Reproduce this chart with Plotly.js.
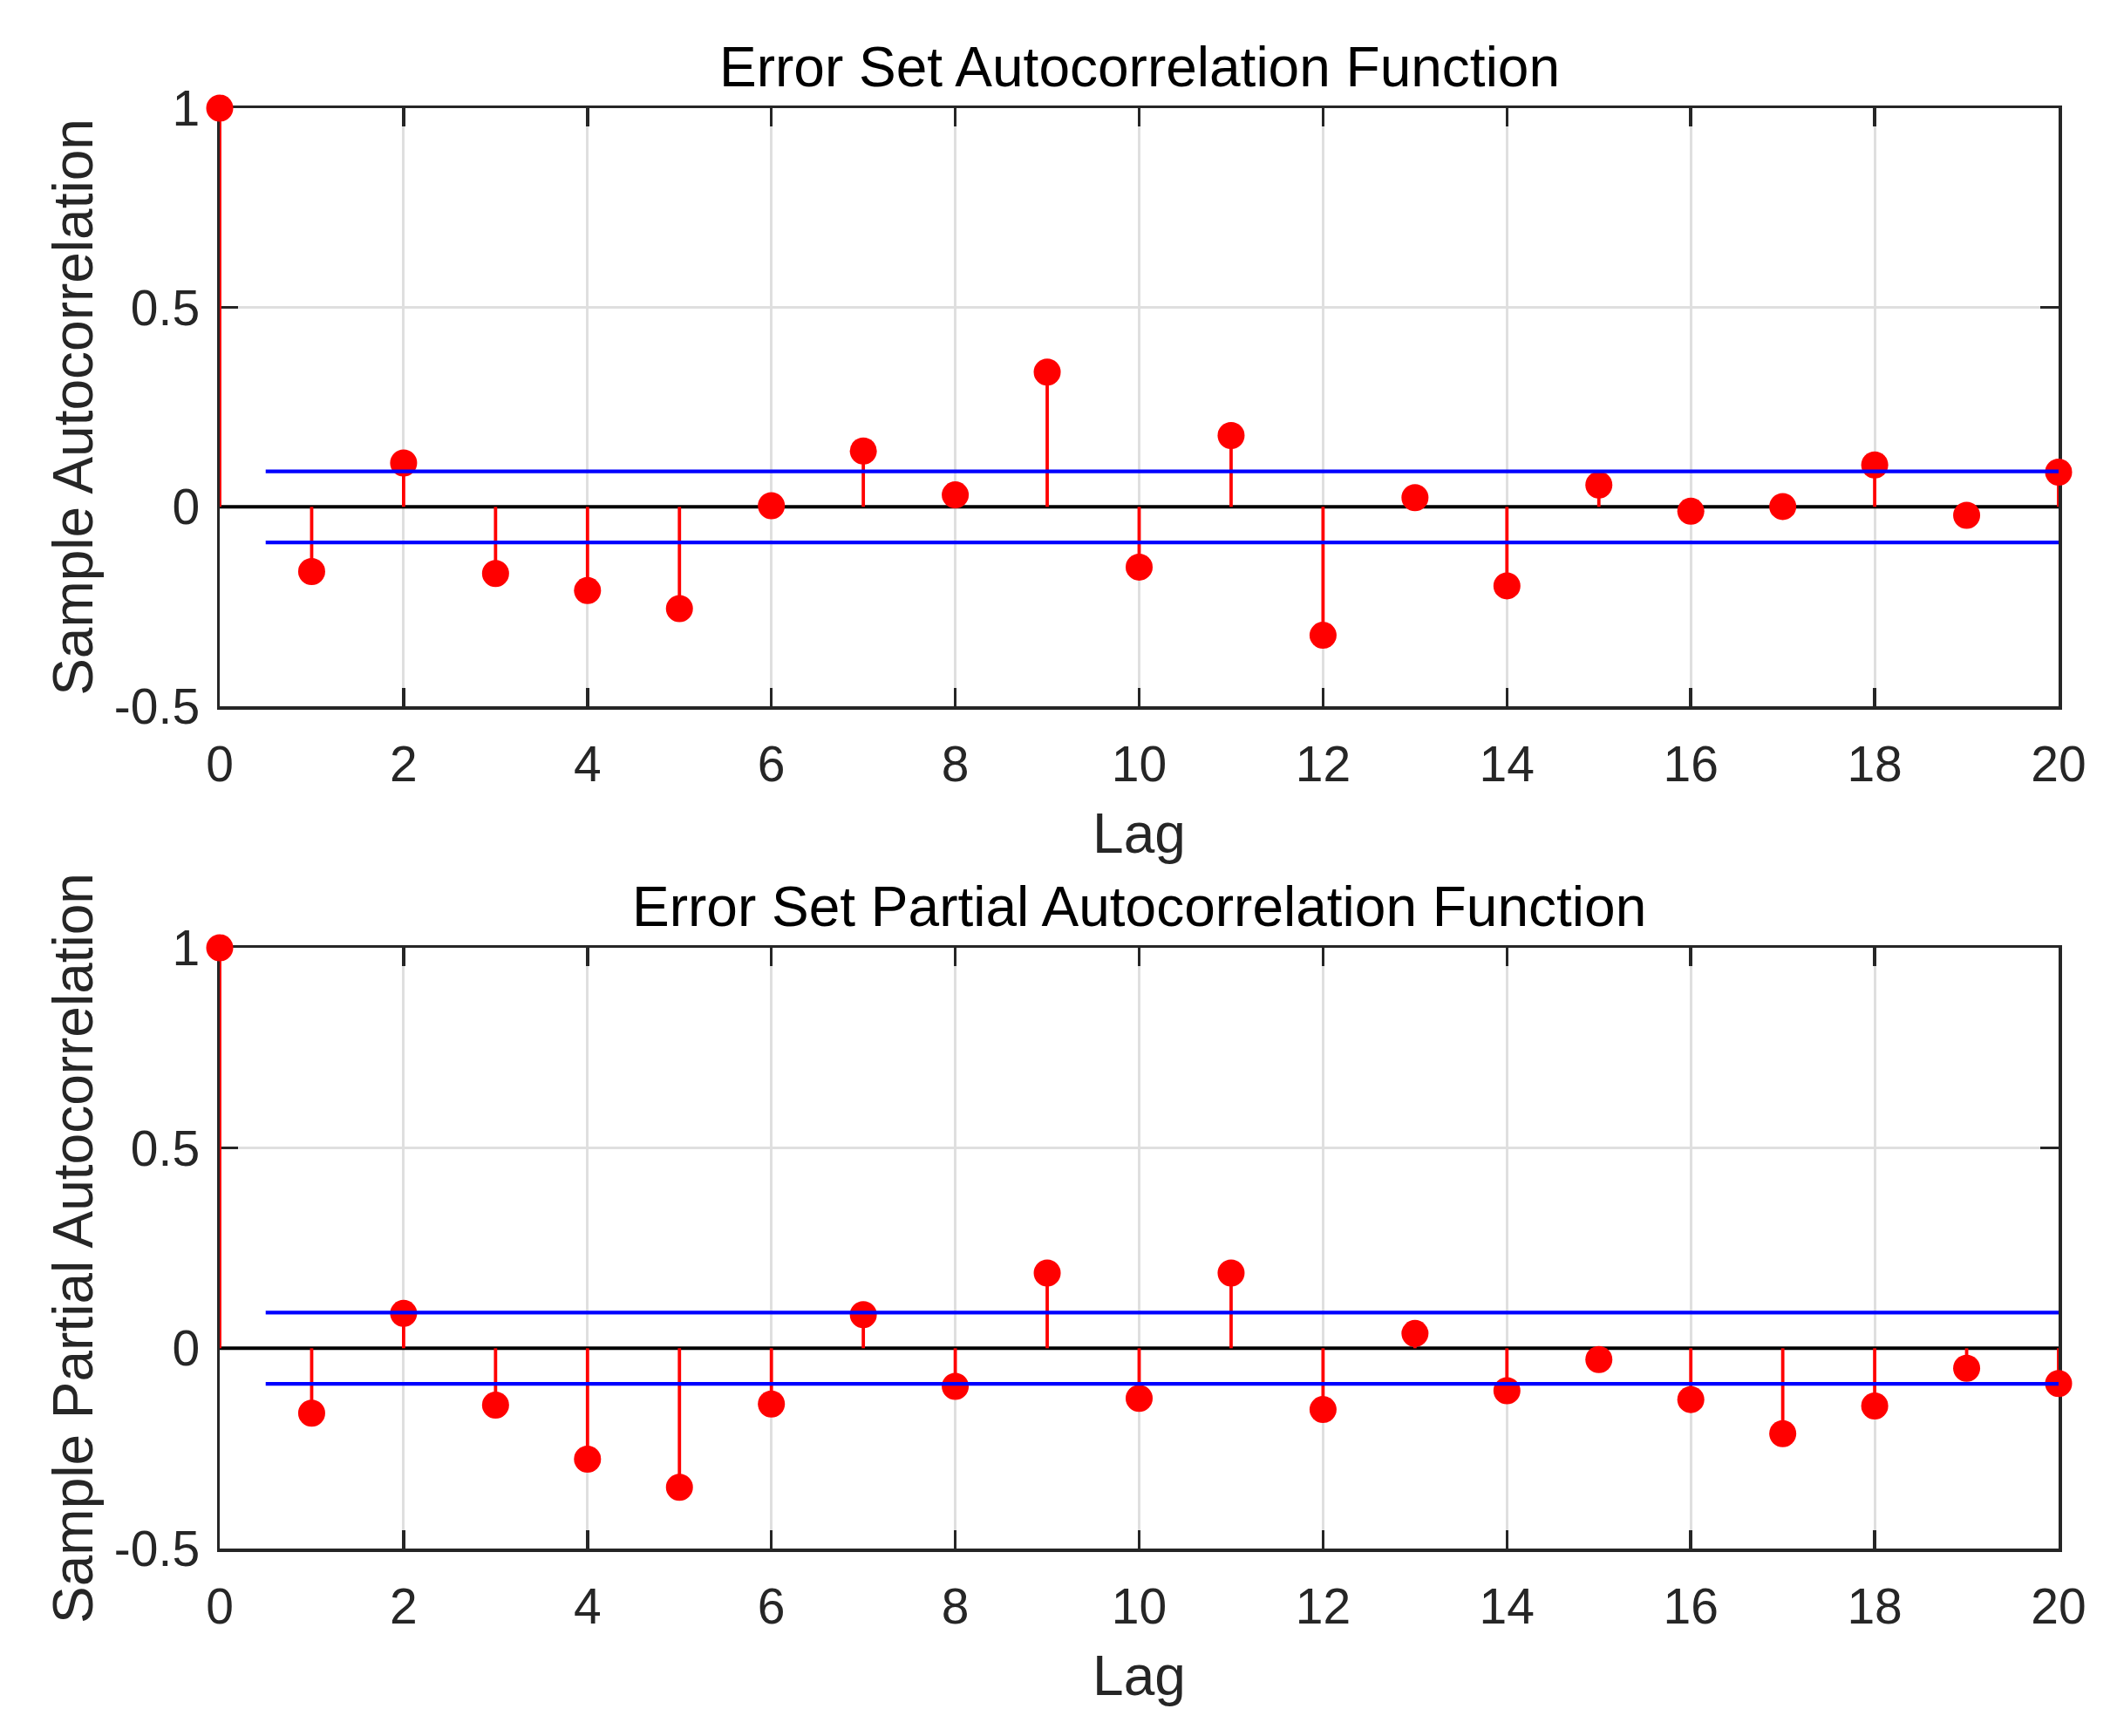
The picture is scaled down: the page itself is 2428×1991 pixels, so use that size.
<!DOCTYPE html>
<html>
<head>
<meta charset="utf-8">
<script src="https://cdn.plot.ly/plotly-3.0.1.min.js"></script>
<style>
  html, body { margin: 0; padding: 0; background: #ffffff; }
  #chart { width: 2428px; height: 1991px; }
</style>
</head>
<body>
<div id="chart"></div>
<script>
// ---------------- data ----------------
const lags = [0, 1, 2, 3, 4, 5, 6, 7, 8, 9, 10, 11, 12, 13, 14, 15, 16, 17, 18, 19, 20];
const acfValues = [1, -0.162, 0.110, -0.167, -0.210, -0.255, 0.003, 0.140, 0.030, 0.338, -0.151,
                   0.179, -0.322, 0.023, -0.198, 0.055, -0.011, 0.001, 0.105, -0.021, 0.087];
const pacfValues = [1, -0.162, 0.087, -0.142, -0.277, -0.347, -0.139, 0.084, -0.095, 0.188, -0.125,
                    0.188, -0.153, 0.037, -0.106, -0.028, -0.128, -0.213, -0.144, -0.050, -0.088];
const acfBound = 0.089;
const pacfBound = 0.089;
const boundStartLag = 0.5;
const xTickVals = [0, 2, 4, 6, 8, 10, 12, 14, 16, 18, 20];
const xTickText = ['0', '2', '4', '6', '8', '10', '12', '14', '16', '18', '20'];
const yTickVals = [-0.5, 0, 0.5, 1];
const yTickText = ['-0.5', '0', '0.5', '1'];
const titles = ['Error Set Autocorrelation Function', 'Error Set Partial Autocorrelation Function'];
const yLabels = ['Sample Autocorrelation', 'Sample Partial Autocorrelation'];
const xLabel = 'Lag';

// ---------------- styling ----------------
const FONT = 'Liberation Sans, Arial, Helvetica, sans-serif';
const AX = '#262626';
const W = 2428, H = 1991;
const px2x = p => p / W;
const px2y = p => (H - p) / H;

function stemTraces(values, bound, xa, ya) {
  const sx = [], sy = [];
  lags.forEach((l, i) => { sx.push(l, l, null); sy.push(0, values[i], null); });
  const last = lags[lags.length - 1];
  return [
    { x: [lags[0], last], y: [0, 0], xaxis: xa, yaxis: ya, mode: 'lines',
      line: { color: '#000000', width: 4 }, hoverinfo: 'skip', showlegend: false, cliponaxis: false },
    { x: sx, y: sy, xaxis: xa, yaxis: ya, mode: 'lines',
      line: { color: '#ff0000', width: 3.8 }, hoverinfo: 'skip', showlegend: false, cliponaxis: false },
    { x: lags, y: values, xaxis: xa, yaxis: ya, mode: 'markers',
      marker: { color: '#ff0000', size: 31, line: { width: 0 } }, showlegend: false, cliponaxis: false },
    { x: [boundStartLag, last], y: [bound, bound], xaxis: xa, yaxis: ya, mode: 'lines',
      line: { color: '#0000ff', width: 4.2 }, hoverinfo: 'skip', showlegend: false, cliponaxis: false },
    { x: [boundStartLag, last], y: [-bound, -bound], xaxis: xa, yaxis: ya, mode: 'lines',
      line: { color: '#0000ff', width: 4.2 }, hoverinfo: 'skip', showlegend: false, cliponaxis: false }
  ];
}

const data = [].concat(
  stemTraces(acfValues, acfBound, 'x', 'y'),
  stemTraces(pacfValues, pacfBound, 'x2', 'y2')
);

function xAxis(anchor) {
  return {
    anchor: anchor, domain: [px2x(252), px2x(2361)], range: [0, 20],
    tickmode: 'array', tickvals: xTickVals, ticktext: xTickText,
    ticks: 'inside', ticklen: 21, tickwidth: 3.5, tickcolor: AX,
    showline: true, linewidth: 3.5, linecolor: AX, mirror: 'ticks',
    showgrid: true, gridcolor: '#dfdfdf', gridwidth: 3, zeroline: false,
    tickfont: { family: FONT, size: 57, color: AX }, ticklabelstandoff: 14,
    title: { text: xLabel, font: { family: FONT, size: 64, color: AX }, standoff: 27 },
    layer: 'below traces', fixedrange: true
  };
}
function yAxis(topPx, bottomPx, anchor, label) {
  return {
    anchor: anchor, domain: [px2y(bottomPx), px2y(topPx)], range: [-0.5, 1],
    tickmode: 'array', tickvals: yTickVals, ticktext: yTickText,
    ticks: 'inside', ticklen: 21, tickwidth: 3.5, tickcolor: AX,
    showline: true, linewidth: 3.5, linecolor: AX, mirror: 'ticks',
    showgrid: true, gridcolor: '#dfdfdf', gridwidth: 3, zeroline: false,
    tickfont: { family: FONT, size: 57, color: AX }, ticklabelstandoff: 8,
    title: { text: label, font: { family: FONT, size: 64, color: AX }, standoff: 4 },
    layer: 'below traces', fixedrange: true
  };
}

const layout = {
  width: W, height: H,
  margin: { l: 0, r: 0, t: 0, b: 0 },
  paper_bgcolor: '#ffffff', plot_bgcolor: '#ffffff',
  showlegend: false,
  xaxis: xAxis('y'),
  yaxis: yAxis(124, 810, 'x', yLabels[0]),
  xaxis2: xAxis('y2'),
  yaxis2: yAxis(1087, 1776, 'x2', yLabels[1]),
  annotations: [
    { text: titles[0], xref: 'paper', yref: 'paper', x: px2x(1306.5), y: px2y(77),
      xanchor: 'center', yanchor: 'middle', showarrow: false,
      font: { family: FONT, size: 64, color: '#000000' } },
    { text: titles[1], xref: 'paper', yref: 'paper', x: px2x(1306.5), y: px2y(1040),
      xanchor: 'center', yanchor: 'middle', showarrow: false,
      font: { family: FONT, size: 64, color: '#000000' } }
  ]
};

Plotly.newPlot('chart', data, layout, { staticPlot: true, displayModeBar: false });
</script>
</body>
</html>
